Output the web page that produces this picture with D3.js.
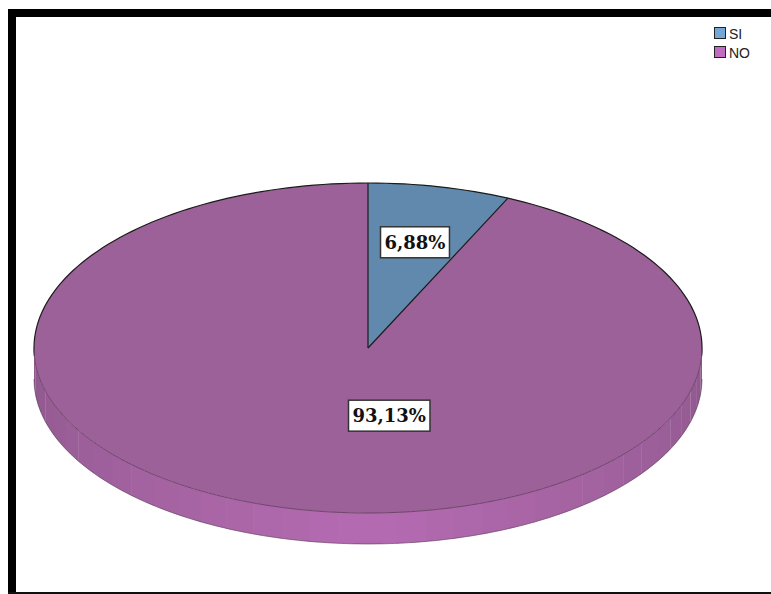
<!DOCTYPE html>
<html>
<head>
<meta charset="utf-8">
<script src="https://cdn.jsdelivr.net/npm/d3@7"></script>
<style>
  body { margin: 0; background: #fff; }
  svg { display: block; }
</style>
</head>
<body>
<svg id="chart" width="771" height="594"></svg>
<script>
// data
var categories = ["SI", "NO"];
var values = [6.88, 93.13];
var labels = ["6,88%", "93,13%"];
var topColors = ["#6189ad", "#9c6198"];
var legendColors = ["#74a6d6", "#c06cc0"];

var svg = d3.select("#chart"),
    width = 771, height = 594,
    cx = 368, cy = 348, rx = 334, ry = 165, depth = 31;

// frame
svg.append("rect").attr("x", 8).attr("y", 9).attr("width", width - 8).attr("height", 8).attr("fill", "#000");
svg.append("rect").attr("x", 8).attr("y", 9).attr("width", 8).attr("height", height - 9).attr("fill", "#000");
svg.append("rect").attr("x", 8).attr("y", 592).attr("width", width - 8).attr("height", 2).attr("fill", "#111");

// scales: unit circle -> ellipse
var x = d3.scaleLinear().domain([-1, 1]).range([cx - rx, cx + rx]);
var y = d3.scaleLinear().domain([-1, 1]).range([cy - ry, cy + ry]);
function px(t, f) { return x((f == null ? 1 : f) * Math.sin(t)); }
function py(t, f) { return y(-(f == null ? 1 : f) * Math.cos(t)); }

var pie = d3.pie().sort(null).value(function(d) { return d; });
var arcs = pie(values);

// side of the pie (only the front half shows)
var shade = d3.scaleLinear()
    .domain([Math.PI / 2, Math.PI, 3 * Math.PI / 2])
    .range(["#8e588c", "#b56bb2", "#8e588c"]);

var g = svg.append("g");
var steps = 36;
arcs.forEach(function(a, i) {
    var a0 = Math.max(a.startAngle, Math.PI / 2),
        a1 = Math.min(a.endAngle, 3 * Math.PI / 2);
    if (a1 <= a0) return;
    var n = Math.max(1, Math.round(steps * (a1 - a0) / Math.PI));
    for (var k = 0; k < n; k++) {
        var s = a0 + (a1 - a0) * k / n,
            e = a0 + (a1 - a0) * (k + 1) / n + 0.002,
            pts = [];
        d3.range(0, 6).forEach(function(j) {
            var t = s + (e - s) * j / 5;
            pts.push([px(t), py(t)]);
        });
        d3.range(5, -1, -1).forEach(function(j) {
            var t = s + (e - s) * j / 5;
            pts.push([px(t), py(t) + depth]);
        });
        g.append("path")
            .attr("d", d3.line()(pts) + "Z")
            .attr("fill", shade((s + e) / 2))
            .attr("stroke", "none");
    }
});

// bottom edge outline
var bottomPts = d3.range(0, 61).map(function(j) {
    var t = Math.PI / 2 + Math.PI * j / 60;
    return [px(t), py(t) + depth];
});
g.append("path").attr("d", d3.line()(bottomPts)).attr("fill", "none")
    .attr("stroke", "#5a3a58").attr("stroke-width", 1).attr("opacity", 0.6);

// top face
var arc = d3.arc().innerRadius(0).outerRadius(1);
svg.append("g")
    .attr("transform", "translate(" + cx + "," + cy + ") scale(" + rx + "," + ry + ")")
    .selectAll("path")
    .data(arcs)
    .enter()
    .append("path")
    .attr("d", arc)
    .attr("fill", function(d, i) { return topColors[i]; })
    .attr("stroke", "none");

// outlines: back rim dark, front rim soft, slice edges dark
function rim(t0, t1) {
    return d3.line()(d3.range(0, 121).map(function(j) {
        var t = t0 + (t1 - t0) * j / 120;
        return [px(t), py(t)];
    }));
}
svg.append("path").attr("d", rim(-Math.PI / 2 - 0.05, Math.PI / 2 + 0.05))
    .attr("fill", "none").attr("stroke", "#1a1a1a").attr("stroke-width", 1.2);
svg.append("path").attr("d", rim(Math.PI / 2, 3 * Math.PI / 2))
    .attr("fill", "none").attr("stroke", "#6e446c").attr("stroke-width", 1);
arcs.forEach(function(a) {
    svg.append("line")
        .attr("x1", x(0)).attr("y1", y(0))
        .attr("x2", px(a.startAngle)).attr("y2", py(a.startAngle))
        .attr("stroke", "#1a1a1a").attr("stroke-width", 1.2);
});

// labels (angle offset, radius fraction)
var labelPlace = [[0, 0.656], [-0.37, 0.415]];
arcs.forEach(function(a, i) {
    var mid = (a.startAngle + a.endAngle) / 2 + labelPlace[i][0],
        f = labelPlace[i][1],
        lx = px(mid, f),
        ly = py(mid, f);
    var lg = svg.append("g");
    var txt = lg.append("text")
        .attr("x", lx).attr("y", ly)
        .attr("text-anchor", "middle")
        .attr("dominant-baseline", "central")
        .style("font-family", "'DejaVu Serif', serif")
        .style("font-weight", "bold")
        .style("font-size", "18px")
        .attr("fill", "#111")
        .text(labels[i]);
    var bb = txt.node().getBBox();
    lg.insert("rect", "text")
        .attr("x", bb.x - 4).attr("y", ly - 15.5)
        .attr("width", bb.width + 8).attr("height", 31)
        .attr("fill", "#fff")
        .attr("stroke", "#333").attr("stroke-width", 1.5);
});

// legend
var legend = svg.append("g").attr("transform", "translate(714,27)");
categories.forEach(function(c, i) {
    legend.append("rect")
        .attr("x", 0.5).attr("y", i * 19 + 0.5)
        .attr("width", 11).attr("height", 11)
        .attr("fill", legendColors[i])
        .attr("stroke", "#222").attr("stroke-width", 1);
    legend.append("text")
        .attr("x", 15).attr("y", i * 19 + 11.5)
        .style("font-family", "'Liberation Sans', Arial, sans-serif")
        .style("font-size", "14px")
        .attr("fill", "#222")
        .text(c);
});
</script>
</body>
</html>
